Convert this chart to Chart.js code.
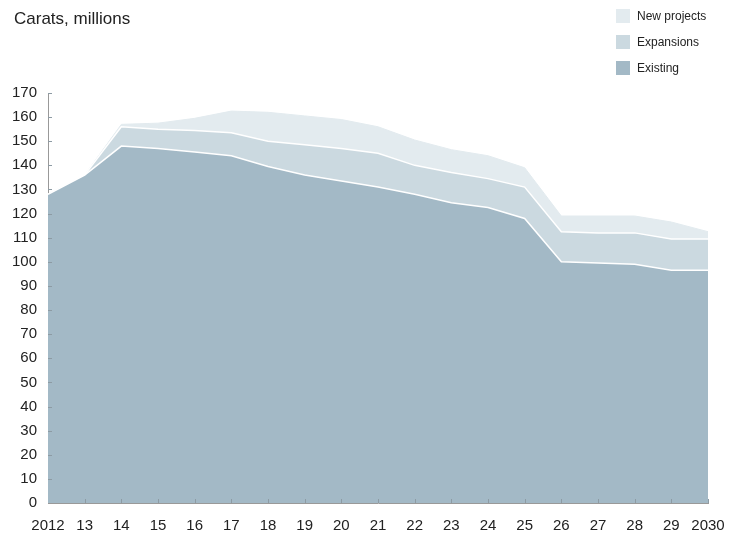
<!DOCTYPE html>
<html>
<head>
<meta charset="utf-8">
<script src="https://cdn.jsdelivr.net/npm/chart.js@4/dist/chart.umd.min.js"></script>
<style>
    html, body { margin: 0; padding: 0; background: #fff; }
    #wrap { position: relative; width: 739px; height: 535px; font-family: "Liberation Sans", Arial, sans-serif; }
    #title { position: absolute; left: 14px; top: 9px; font-size: 17px; color: #222; }
    #legend { position: absolute; left: 616px; top: 3px; font-size: 12px; color: #222; }
    .item { display: flex; align-items: center; height: 26px; }
    .sw { width: 14px; height: 14px; margin-right: 7px; }
</style>
</head>
<body>
<div id="wrap">
    <canvas id="chart" width="739" height="535"></canvas>
    <div id="title">Carats, millions</div>
    <div id="legend"></div>
</div>
<script>
const years = ["2012", "13", "14", "15", "16", "17", "18", "19", "20", "21", "22", "23", "24", "25", "26", "27", "28", "29", "2030"];
const existing = [128, 136, 148, 147, 145.5, 144, 139.5, 136, 133.5, 131, 128, 124.5, 122.5, 118, 100, 99.5, 99, 96.5, 96.5];
const expansions = [0, 0, 8, 8, 9, 9.5, 10.5, 12.5, 13.5, 14, 12, 12.5, 12, 13, 12.5, 12.5, 13, 13, 13];
const newProjects = [0, 0, 1, 2.5, 5, 9, 12, 12, 12, 11, 10.5, 9.5, 9.5, 8, 6.5, 7, 7, 7, 3];
const yTicks = [0, 10, 20, 30, 40, 50, 60, 70, 80, 90, 100, 110, 120, 130, 140, 150, 160, 170];

const colors = { existing: "#a3b9c6", expansions: "#cbd9e0", newProjects: "#e3ebef" };

// legend, top to bottom
const legendItems = [["New projects", colors.newProjects], ["Expansions", colors.expansions], ["Existing", colors.existing]];
const legend = document.getElementById("legend");
legendItems.forEach(function (it) {
    const row = document.createElement("div");
    row.className = "item";
    row.innerHTML = '<div class="sw" style="background:' + it[1] + '"></div><span>' + it[0] + "</span>";
    legend.appendChild(row);
});

// small tick marks pointing into the plot area
const innerTicks = {
    id: "innerTicks",
    afterDatasetsDraw(chart) {
        const ctx = chart.ctx;
        const x = chart.scales.x, y = chart.scales.y;
        const area = chart.chartArea;
        ctx.save();
        ctx.strokeStyle = "#8d9ba4";
        ctx.lineWidth = 1;
        ctx.beginPath();
        x.ticks.forEach(function (t, i) {
            if (i === 0) return;
            const px = Math.round(x.getPixelForTick(i)) + 0.5;
            ctx.moveTo(px, area.bottom);
            ctx.lineTo(px, area.bottom - 4);
        });
        y.ticks.forEach(function (t, i) {
            if (i === 0) return;
            const py = Math.round(y.getPixelForTick(i)) + 0.5;
            ctx.moveTo(area.left, py);
            ctx.lineTo(area.left + 4, py);
        });
        ctx.stroke();
        ctx.restore();
    },
};

const tickFont = { family: "'Liberation Sans Narrow', 'Liberation Sans', Arial, sans-serif", size: 15 };

new Chart(document.getElementById("chart").getContext("2d"), {
    type: "line",
    data: {
        labels: years,
        datasets: [
            {
                label: "Existing",
                data: existing,
                backgroundColor: colors.existing,
                borderColor: "#ffffff",
                borderWidth: 1.5,
                fill: "origin",
            },
            {
                label: "Expansions",
                data: expansions,
                backgroundColor: colors.expansions,
                borderColor: "#ffffff",
                borderWidth: 1.5,
                fill: "-1",
            },
            {
                label: "New projects",
                data: newProjects,
                backgroundColor: colors.newProjects,
                borderColor: colors.newProjects,
                borderWidth: 1,
                fill: "-1",
            },
        ],
    },
    options: {
        responsive: false,
        animation: false,
        layout: { padding: { top: 93, right: 31, left: 0, bottom: 0 } },
        elements: { point: { radius: 0 }, line: { tension: 0 } },
        plugins: {
            legend: { display: false },
            tooltip: { enabled: false },
        },
        scales: {
            x: {
                offset: false,
                grid: { display: false, drawTicks: false },
                border: { display: true, color: "#999" },
                ticks: { color: "#222", font: tickFont, maxRotation: 0, autoSkip: false, padding: 14 },
                afterFit: function (s) { s.height = 32; },
            },
            y: {
                stacked: true,
                min: 0,
                max: 170,
                afterBuildTicks: function (s) { s.ticks = yTicks.map(function (v) { return { value: v }; }); },
                grid: { display: false, drawTicks: false },
                border: { display: true, color: "#999" },
                ticks: { color: "#222", font: tickFont, padding: 11 },
                afterFit: function (s) { s.width = 48; },
            },
        },
    },
    plugins: [innerTicks],
});
</script>
</body>
</html>
